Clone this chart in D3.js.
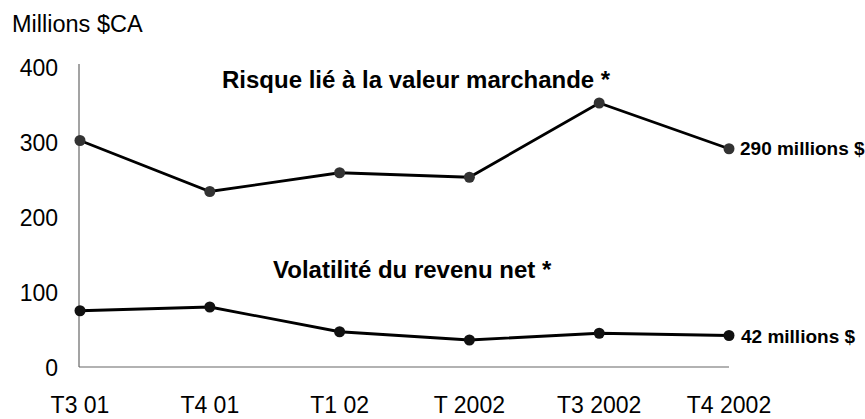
<!DOCTYPE html>
<html><head><meta charset="utf-8">
<script src="https://cdn.jsdelivr.net/npm/d3@7"></script>
<style>body{margin:0;background:#fff}svg{display:block;font-family:"Liberation Sans",Arial,sans-serif}</style>
</head><body>
<svg id="c" width="865" height="419"></svg>
<script>
const categories = ["T3 01","T4 01","T1 02","T 2002","T3 2002","T4 2002"];
const marketRisk = [302, 234, 259, 253, 352, 291];
const incomeVolatility = [75, 80, 47, 36, 45, 42];
const yTicks = [0, 100, 200, 300, 400];
const yLabel = "Millions $CA";
const title1 = "Risque lié à la valeur marchande *";
const title2 = "Volatilité du revenu net *";
const end1 = "290 millions $";
const end2 = "42 millions $";

const svg = d3.select("#c");
const x = d3.scalePoint().domain(categories).range([80, 729]);
const y = d3.scaleLinear().domain([0, 400]).range([367, 67]);

// axes lines
svg.append("line").attr("x1",79).attr("x2",79).attr("y1",y(400)-3).attr("y2",y(0)).attr("stroke","#666").attr("stroke-width",1.2);
svg.append("line").attr("x1",79).attr("x2",x(categories[5])).attr("y1",y(0)).attr("y2",y(0)).attr("stroke","#666").attr("stroke-width",1.2);

// y tick labels
svg.selectAll(".yt").data(yTicks).enter().append("text")
  .attr("x",58).attr("y",d=>y(d)+8.5).attr("text-anchor","end")
  .attr("font-size",23).attr("fill","#000").text(d=>d);
// x tick labels
svg.selectAll(".xt").data(categories).enter().append("text")
  .attr("x",d=>x(d)).attr("y",413).attr("text-anchor","middle")
  .attr("font-size",23).attr("fill","#000").text(d=>d);

svg.append("text").attr("x",12).attr("y",32).attr("font-size",23.5).text(yLabel);

const line = d3.line().x((d,i)=>x(categories[i])).y(d=>y(d));
function series(vals, dot){
  svg.append("path").datum(vals).attr("d",line).attr("fill","none").attr("stroke","#000").attr("stroke-width",2.8);
  svg.selectAll(null).data(vals).enter().append("circle")
    .attr("cx",(d,i)=>x(categories[i])).attr("cy",d=>y(d)).attr("r",5.5).attr("fill",dot);
}
series(marketRisk, "#333");
series(incomeVolatility, "#111");

svg.append("text").attr("x",222).attr("y",88).attr("font-size",24).attr("font-weight","bold").text(title1);
svg.append("text").attr("x",273).attr("y",278).attr("font-size",24).attr("font-weight","bold").text(title2);
svg.append("text").attr("x",740).attr("y",y(marketRisk[5])+6).attr("font-size",19).attr("font-weight","bold").text(end1);
svg.append("text").attr("x",741).attr("y",y(incomeVolatility[5])+7).attr("font-size",19).attr("font-weight","bold").text(end2);
</script>
</body></html>
